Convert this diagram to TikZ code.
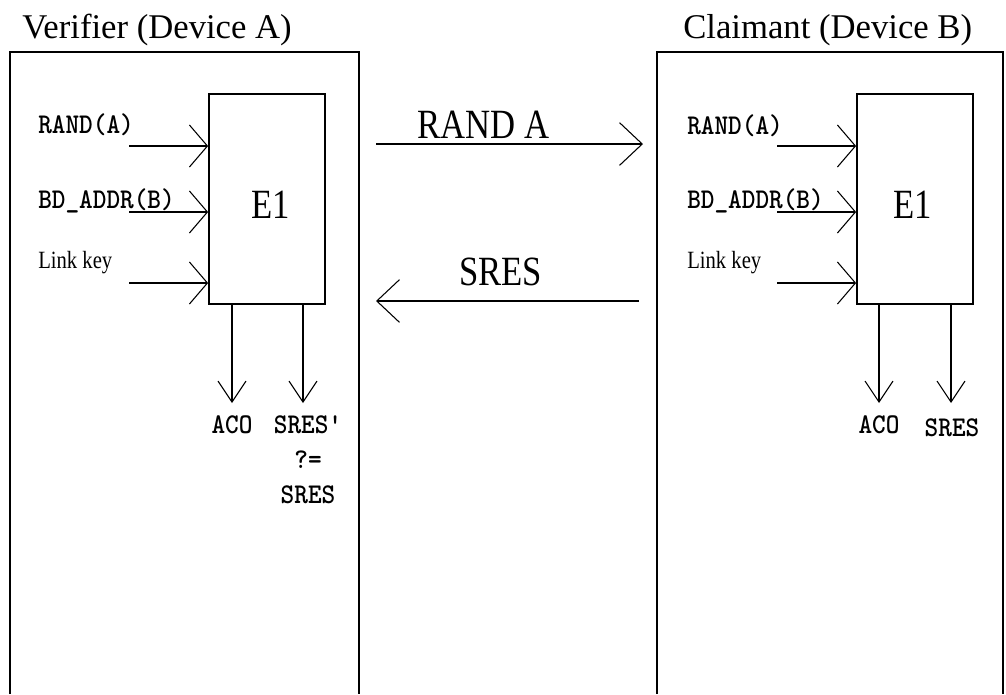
\documentclass[tikz,border=0pt]{standalone}
\usepackage{fontspec}
\setmainfont{Liberation Serif}
\usepackage{graphicx}
\usetikzlibrary{arrows.meta}
\newcommand{\tallish}[1]{\scalebox{1}[1.2]{#1}}
\newcommand{\tallmono}[1]{\scalebox{1}[1.1]{#1}}

\begin{document}
\begin{tikzpicture}[x=0.75pt,y=-0.75pt]
\tikzstyle{wire}=[line width=1.3pt]
\tikzstyle{htip}=[wire,-{Straight Barb[length=13.5pt,width=31.5pt,line width=0.8pt]}]
\tikzstyle{vtip}=[wire,-{Straight Barb[length=15.75pt,width=21pt,line width=0.8pt]}]
\tikzstyle{mtip}=[wire,-{Straight Barb[length=17pt,width=32pt,line width=0.8pt]}]
\tikzstyle{func}=[draw=black,line width=1.3pt,minimum width=87pt,minimum height=157.5pt,inner sep=0pt]
\tikzstyle{title}=[inner sep=0pt,anchor=base west,font=\fontsize{26}{30}\selectfont]
\tikzstyle{big}=[inner sep=0pt,font=\fontsize{26}{30}\selectfont]
\tikzstyle{small}=[inner sep=0pt,font=\fontsize{19.5}{22}\selectfont\ttfamily\bfseries]
\tikzstyle{keytxt}=[inner sep=0pt,anchor=base west,font=\fontsize{15.5}{18}\selectfont]
\useasboundingbox (0,0) rectangle (1006,694);
\draw[wire] (10,694) |- (359,52) -- (359,694);
\draw[wire] (657,694) |- (1003,52) -- (1003,694);
\node[title] (vtitle) at (22,38) {Verifier (Device A)};
\node[title] (ctitle) at (683,38) {Claimant (Device B)};
\node[func] (e1a) at (267,199) {};
\node[func] (e1b) at (915,199) {};
\node[big,anchor=base] (e1atxt) at (271,218) {\tallish{E1}};
\node[big,anchor=base] (e1btxt) at (913,218) {\tallish{E1}};
\node[small,anchor=base west] (randa) at (38,133) {\tallmono{RAND(A)}};
\node[small,anchor=base west] (bda) at (38,208) {\tallmono{BD\_ADDR(B)}};
\node[keytxt] (keya) at (38,268) {\tallish{Link key}};
\node[small,anchor=base west] (randb) at (687,134) {\tallmono{RAND(A)}};
\node[small,anchor=base west] (bdb) at (687,208) {\tallmono{BD\_ADDR(B)}};
\node[keytxt] (keyb) at (687,268) {\tallish{Link key}};
\coordinate (ina1) at (129,146);
\coordinate (ina2) at (129,212);
\coordinate (ina3) at (129,283);
\coordinate (inb1) at (777,146);
\coordinate (inb2) at (777,212);
\coordinate (inb3) at (777,283);
\draw[htip] (ina1) -- (ina1 -| e1a.west);
\draw[htip] (ina2) -- (ina2 -| e1a.west);
\draw[htip] (ina3) -- (ina3 -| e1a.west);
\draw[htip] (inb1) -- (inb1 -| e1b.west);
\draw[htip] (inb2) -- (inb2 -| e1b.west);
\draw[htip] (inb3) -- (inb3 -| e1b.west);
\coordinate (outa1) at (232,403);
\coordinate (outa2) at (303,403);
\coordinate (outb1) at (879,403);
\coordinate (outb2) at (951,403);
\draw[vtip] (outa1 |- e1a.south) -- (outa1);
\draw[vtip] (outa2 |- e1a.south) -- (outa2);
\draw[vtip] (outb1 |- e1b.south) -- (outb1);
\draw[vtip] (outb2 |- e1b.south) -- (outb2);
\node[small,anchor=base] (acoa) at (232,433) {\tallmono{ACO}};
\node[small,anchor=base] (sresa) at (308,433) {\tallmono{SRES'}};
\node[small,anchor=base] (cmpa) at (308,468) {\tallmono{?=}};
\node[small,anchor=base] (sresa2) at (308,503) {\tallmono{SRES}};
\node[small,anchor=base] (acob) at (879,433) {\tallmono{ACO}};
\node[small,anchor=base] (sresb) at (952,436) {\tallmono{SRES}};
\coordinate (ra1) at (376,144);
\coordinate (ra2) at (643,144);
\coordinate (sr1) at (639,301);
\coordinate (sr2) at (376,301);
\draw[mtip] (ra1) -- (ra2);
\draw[mtip] (sr1) -- (sr2);
\node[big,anchor=base west] (randmsg) at (417,138) {\tallish{RAND A}};
\node[big,anchor=base west] (sresmsg) at (459,285) {\tallish{SRES}};
\end{tikzpicture}
\end{document}
